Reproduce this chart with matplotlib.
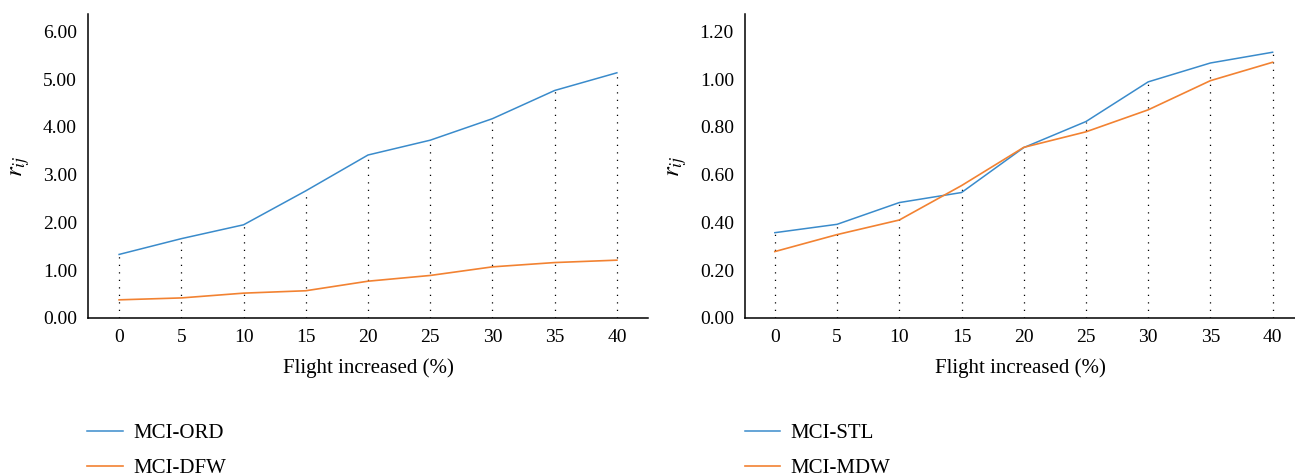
import matplotlib.pyplot as plt

plt.rcParams['font.family'] = ['Liberation Serif', 'DejaVu Serif']
plt.rcParams['mathtext.fontset'] = 'stix'

# data
flight = [0, 5, 10, 15, 20, 25, 30, 35, 40]

mci_ord = [1.33, 1.66, 1.95, 2.66, 3.41, 3.72, 4.17, 4.76, 5.13]
mci_dfw = [0.38, 0.42, 0.52, 0.57, 0.77, 0.89, 1.07, 1.16, 1.21]

mci_stl = [0.357, 0.392, 0.483, 0.525, 0.713, 0.822, 0.988, 1.067, 1.112]
mci_mdw = [0.278, 0.349, 0.410, 0.554, 0.714, 0.779, 0.871, 0.993, 1.070]

left_ticks = [0, 1, 2, 3, 4, 5, 6]
right_ticks = [0, 0.2, 0.4, 0.6, 0.8, 1.0, 1.2]

BLUE = '#3a8bcb'
ORANGE = '#f28232'

fig = plt.figure(figsize=(12.95, 4.76), dpi=100)
W, H = 1295, 476


def make_axes(x0, x1, y0=318, y1=14):
    return fig.add_axes([x0 / W, 1 - y0 / H, (x1 - x0) / W, (y0 - y1) / H])


panels = [
    (make_axes(88, 648), mci_ord, mci_dfw, 'MCI-ORD', 'MCI-DFW',
     left_ticks, (-2.5, 42.5), (0, 6.36)),
    (make_axes(745, 1295), mci_stl, mci_mdw, 'MCI-STL', 'MCI-MDW',
     right_ticks, (-2.4, 41.8), (0, 1.272)),
]

for ax, s1, s2, n1, n2, yt, xl, yl in panels:
    tops = [max(a, b) for a, b in zip(s1, s2)]
    ax.vlines(flight, 0, tops, colors='black', linestyles=(0, (1, 5)), linewidth=0.9)
    ax.plot(flight, s1, color=BLUE, lw=1.1, label=n1)
    ax.plot(flight, s2, color=ORANGE, lw=1.2, label=n2)
    ax.set_xlim(*xl)
    ax.set_ylim(*yl)
    ax.set_xticks(flight)
    ax.set_yticks(yt)
    ax.set_yticklabels(['%.2f' % v for v in yt])
    ax.tick_params(length=0, labelsize=14, pad=8)
    for s in ['top', 'right']:
        ax.spines[s].set_visible(False)
    ax.spines['left'].set_linewidth(1.1)
    ax.spines['bottom'].set_linewidth(1.1)
    ax.set_xlabel('Flight increased (%)', fontsize=15, labelpad=9)
    ax.set_ylabel(r'$r_{ij}$', fontsize=18, labelpad=8)
    ax.legend(loc='upper left', bbox_to_anchor=(-0.016, -0.32), frameon=False,
              fontsize=15, handlelength=1.7, handletextpad=0.5,
              labelspacing=0.75, borderaxespad=0)

fig.savefig('out.png', dpi=100)
